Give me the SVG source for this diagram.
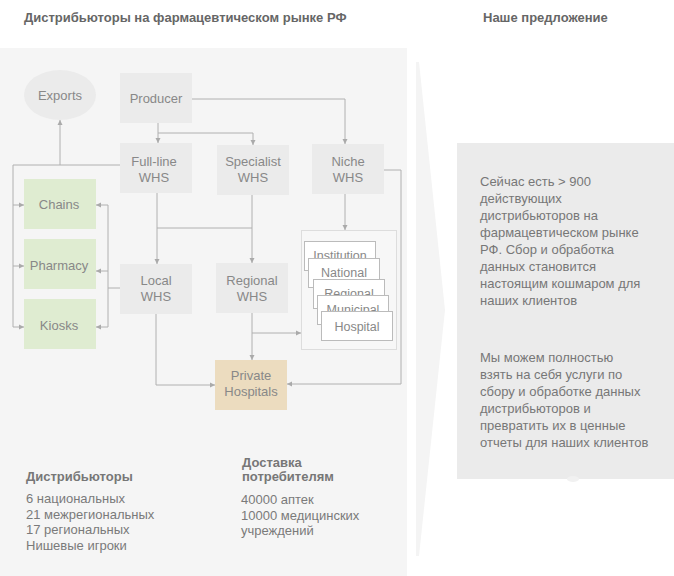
<svg xmlns="http://www.w3.org/2000/svg" width="674" height="576" viewBox="0 0 674 576">
<defs>
<marker id="ah" markerUnits="userSpaceOnUse" markerWidth="6" markerHeight="6" refX="5" refY="3" orient="auto">
<path d="M0,0.5 L5,3 L0,5.5 z" fill="#aaaaaa"/>
</marker>
<style>
text{font-family:"Liberation Sans",Arial,Helvetica,sans-serif}
.n{fill:#ebebeb}
.g{fill:#dfecd1}
.t{fill:#ecdcbf}
.lb{font-size:13px;fill:#888888;text-anchor:middle}
.cd{fill:#ffffff;stroke:#bbbbbb;stroke-width:1}
.cl{font-size:12.5px;fill:#888888;text-anchor:middle}
.c{fill:none;stroke:#b0b0b0;stroke-width:1}
.ca{fill:none;stroke:#b0b0b0;stroke-width:1;marker-end:url(#ah)}
.h{font-size:13px;font-weight:bold;fill:#666666}
.hb{font-size:13px;font-weight:bold;fill:#777777}
.b{font-size:13px;fill:#7a7a7a}
.r{font-size:13px;fill:#777777}
</style>
</defs>
<rect x="0" y="0" width="674" height="576" fill="#ffffff"/>
<rect x="0" y="48" width="407" height="528" fill="#f5f5f5"/>
<polygon points="416,62 419,62 445,310 419,556 416,556" fill="#f4f4f4"/>
<rect x="457" y="143" width="217" height="336" fill="#ebebeb"/>
<ellipse cx="573" cy="479" rx="6" ry="3" fill="#f1f1f1"/>

<text class="h" x="24" y="22">Дистрибьюторы на фармацевтическом рынке РФ</text>
<text class="h" x="483" y="22">Наше предложение</text>

<g id="connectors">
<path class="ca" d="M158,123 V143"/>
<path class="ca" d="M158,133 H253 V145"/>
<path class="ca" d="M192,99 H345 V144"/>
<path class="c" d="M120,165 H13 V327"/>
<path class="ca" d="M60,165 V120"/>
<path class="ca" d="M13,205 H24"/>
<path class="ca" d="M13,266 H24"/>
<path class="ca" d="M13,327 H24"/>
<path class="c" d="M120,288 H108"/>
<path class="c" d="M108,205 V327"/>
<path class="ca" d="M108,205 H96"/>
<path class="ca" d="M108,271 H96"/>
<path class="ca" d="M108,327 H96"/>
<path class="ca" d="M157,193 V264"/>
<path class="c" d="M157,228 H252"/>
<path class="ca" d="M252,195 V263"/>
<path class="ca" d="M156,314 V385 H215"/>
<path class="ca" d="M252,313 V360"/>
<path class="ca" d="M252,333 H301"/>
<path class="ca" d="M345,194 V230"/>
<path class="ca" d="M384,170 H401 V384 H287"/>
</g>

<g id="exports"><ellipse class="n" cx="60" cy="95" rx="36" ry="25"/><text class="lb" x="60" y="99.5">Exports</text></g>
<g id="producer"><rect class="n" x="120" y="73" width="72" height="50"/><text class="lb" x="156" y="102.5">Producer</text></g>
<g id="fullline"><rect class="n" x="120" y="143" width="72" height="50"/><text class="lb" x="154" y="166">Full-line</text><text class="lb" x="154" y="182">WHS</text></g>
<g id="specialist"><rect class="n" x="217" y="145" width="72" height="50"/><text class="lb" x="253" y="166">Specialist</text><text class="lb" x="253" y="182">WHS</text></g>
<g id="niche"><rect class="n" x="312" y="144" width="72" height="50"/><text class="lb" x="348" y="166">Niche</text><text class="lb" x="348" y="182">WHS</text></g>
<g id="chains"><rect class="g" x="24" y="179" width="72" height="50"/><text class="lb" x="59" y="208.5">Chains</text></g>
<g id="pharmacy"><rect class="g" x="24" y="239" width="72" height="50"/><text class="lb" x="59" y="270">Pharmacy</text></g>
<g id="kiosks"><rect class="g" x="24" y="299" width="72" height="50"/><text class="lb" x="59" y="330">Kiosks</text></g>
<g id="local"><rect class="n" x="120" y="264" width="72" height="50"/><text class="lb" x="156" y="285">Local</text><text class="lb" x="156" y="301">WHS</text></g>
<g id="regional"><rect class="n" x="216" y="263" width="72" height="50"/><text class="lb" x="252" y="285">Regional</text><text class="lb" x="252" y="301">WHS</text></g>
<g id="private"><rect class="t" x="215" y="360" width="72" height="50"/><text class="lb" x="251" y="380">Private</text><text class="lb" x="251" y="396">Hospitals</text></g>

<g id="institutions">
<rect x="301.5" y="230.5" width="95" height="119" fill="#f7f7f7" stroke="#dddddd" stroke-width="1"/>
<rect class="cd" x="304.5" y="241.5" width="71" height="29"/><text class="cl" x="340" y="260">Institution</text>
<rect class="cd" x="308.5" y="258.5" width="71" height="29"/><text class="cl" x="344" y="277">National</text>
<rect class="cd" x="313.5" y="279.5" width="71" height="29"/><text class="cl" x="349" y="298">Regional</text>
<rect class="cd" x="317.5" y="295.5" width="71" height="29"/><text class="cl" x="353" y="314">Municipal</text>
<rect class="cd" x="321.5" y="311.5" width="71" height="29"/><text class="cl" x="357" y="330.5">Hospital</text>
</g>

<g id="proposal">
<text class="r" x="480" y="185.5">Сейчас есть &gt; 900</text>
<text class="r" x="480" y="202.5">действующих</text>
<text class="r" x="480" y="219.5">дистрибьюторов на</text>
<text class="r" x="480" y="236.5">фармацевтическом рынке</text>
<text class="r" x="480" y="253.5">РФ. Сбор и обработка</text>
<text class="r" x="480" y="270.5">данных становится</text>
<text class="r" x="480" y="287.5">настоящим кошмаром для</text>
<text class="r" x="480" y="304.5">наших клиентов</text>
<text class="r" x="480" y="361.5">Мы можем полностью</text>
<text class="r" x="480" y="378.5">взять на себя услуги по</text>
<text class="r" x="480" y="395.5">сбору и обработке данных</text>
<text class="r" x="480" y="412.5">дистрибьюторов и</text>
<text class="r" x="480" y="429.5">превратить их в ценные</text>
<text class="r" x="480" y="446.5">отчеты для наших клиентов</text>
</g>

<g id="stats">
<text class="hb" x="26" y="480.5">Дистрибьюторы</text>
<text class="b" x="26" y="503">6 национальных</text>
<text class="b" x="26" y="519">21 межрегиональных</text>
<text class="b" x="26" y="534">17 региональных</text>
<text class="b" x="26" y="550">Нишевые игроки</text>
<text class="hb" x="242" y="466.5">Доставка</text>
<text class="hb" x="242" y="480.5">потребителям</text>
<text class="b" x="241" y="504">40000 аптек</text>
<text class="b" x="241" y="520">10000 медицинских</text>
<text class="b" x="241" y="534.5">учреждений</text>
</g>
</svg>
